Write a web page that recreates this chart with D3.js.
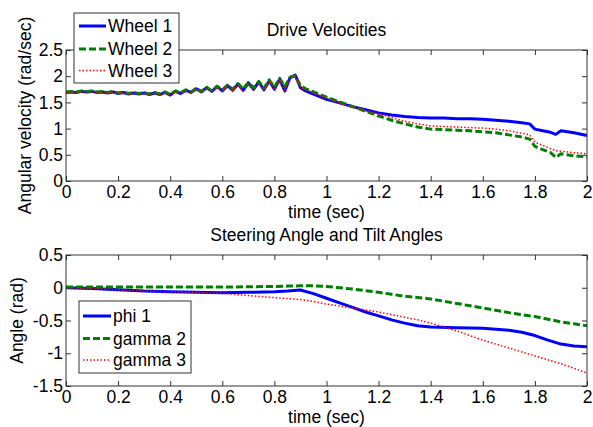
<!DOCTYPE html>
<html><head><meta charset="utf-8">
<script src="https://cdn.jsdelivr.net/npm/d3@7"></script>
<style>
html,body{margin:0;padding:0;background:#fff;}
text{font-family:"Liberation Sans",Arial,sans-serif;}
</style></head>
<body>
<svg id="chart" width="593" height="427"></svg>
<script>
// ---- data ----
const xTicks = [0,0.2,0.4,0.6,0.8,1,1.2,1.4,1.6,1.8,2];
const xTickLabels = ["0","0.2","0.4","0.6","0.8","1","1.2","1.4","1.6","1.8","2"];
const yTopTicks = [0,0.5,1,1.5,2,2.5];
const yTopTickLabels = ["0","0.5","1","1.5","2","2.5"];
const yBotTicks = [-1.5,-1,-0.5,0,0.5];
const yBotTickLabels = ["-1.5","-1","-0.5","0","0.5"];

const tTop = [0,0.02,0.04,0.06,0.08,0.10,0.12,0.14,0.16,0.18,0.20,0.22,0.24,0.26,0.28,0.30,0.32,0.34,0.36,0.38,0.40,0.42,0.44,0.46,0.48,0.50,0.52,0.54,0.56,0.58,0.60,0.62,0.64,0.66,0.68,0.70,0.72,0.74,0.76,0.78,0.80,0.82,0.84,0.86,0.88,
  0.90,0.92,0.95,1.00,1.05,1.10,1.15,1.20,1.25,1.30,1.35,1.40,1.45,1.50,1.55,1.60,1.65,1.70,1.75,1.78,1.80,1.83,1.86,1.88,1.90,1.95,2.00];
const wheel1 = [1.69,1.70,1.69,1.71,1.70,1.71,1.69,1.70,1.68,1.70,1.67,1.69,1.66,1.68,1.66,1.68,1.65,1.68,1.65,1.69,1.64,1.71,1.67,1.73,1.69,1.76,1.70,1.78,1.71,1.80,1.72,1.82,1.73,1.85,1.73,1.87,1.75,1.89,1.74,1.91,1.75,1.94,1.72,1.97,2.02,
  1.78,1.72,1.66,1.56,1.49,1.42,1.36,1.30,1.26,1.23,1.21,1.20,1.20,1.19,1.19,1.18,1.16,1.14,1.11,1.09,0.99,0.96,0.93,0.89,0.96,0.92,0.87];
const wheel2 = [1.70,1.71,1.70,1.72,1.71,1.72,1.70,1.71,1.69,1.71,1.68,1.70,1.67,1.69,1.67,1.69,1.66,1.69,1.66,1.70,1.65,1.72,1.68,1.74,1.70,1.77,1.71,1.79,1.72,1.81,1.74,1.83,1.75,1.86,1.76,1.88,1.78,1.90,1.77,1.93,1.79,1.96,1.80,1.98,2.01,
  1.82,1.76,1.70,1.60,1.51,1.42,1.33,1.24,1.16,1.09,1.03,0.99,0.98,0.97,0.96,0.94,0.92,0.88,0.84,0.80,0.66,0.60,0.54,0.45,0.52,0.48,0.46];
const wheel3 = [1.69,1.70,1.69,1.70,1.70,1.71,1.69,1.70,1.68,1.69,1.67,1.69,1.66,1.68,1.66,1.67,1.65,1.68,1.65,1.68,1.64,1.70,1.66,1.72,1.68,1.75,1.69,1.77,1.70,1.79,1.71,1.81,1.72,1.84,1.72,1.86,1.73,1.88,1.72,1.90,1.73,1.93,1.71,1.96,1.99,
  1.80,1.74,1.68,1.57,1.49,1.41,1.34,1.28,1.21,1.14,1.09,1.05,1.04,1.03,1.02,1.01,0.99,0.96,0.91,0.88,0.74,0.68,0.62,0.58,0.57,0.54,0.52];

const tBot = [0,0.1,0.2,0.3,0.4,0.5,0.6,0.7,0.8,0.85,0.9,0.95,1.0,1.05,1.1,1.15,1.2,1.25,1.3,1.35,1.4,1.5,1.6,1.7,1.75,1.8,1.85,1.9,1.95,2.0];
const phi1 = [0,-0.01,-0.03,-0.05,-0.06,-0.07,-0.075,-0.07,-0.06,-0.05,-0.035,-0.09,-0.16,-0.23,-0.30,-0.37,-0.43,-0.49,-0.54,-0.58,-0.60,-0.61,-0.62,-0.65,-0.68,-0.73,-0.80,-0.86,-0.89,-0.90];
const gamma2 = [0.01,0.01,0.01,0.01,0.01,0.01,0.01,0.015,0.02,0.025,0.03,0.03,0.02,0.0,-0.02,-0.045,-0.07,-0.10,-0.13,-0.15,-0.17,-0.24,-0.31,-0.38,-0.41,-0.44,-0.48,-0.52,-0.55,-0.58];
const gamma3 = [0,-0.01,-0.03,-0.05,-0.06,-0.07,-0.085,-0.12,-0.15,-0.165,-0.18,-0.21,-0.25,-0.28,-0.31,-0.34,-0.37,-0.41,-0.45,-0.49,-0.54,-0.66,-0.80,-0.92,-0.98,-1.04,-1.10,-1.16,-1.23,-1.30];

const topNames = ["Wheel 1","Wheel 2","Wheel 3"];
const botNames = ["phi 1","gamma 2","gamma 3"];

// ---- styles ----
const styles = [
  {color:"#0000ff", width:3, dash:null},
  {color:"#008000", width:3, dash:"7,3"},
  {color:"#ff0000", width:1.5, dash:"1.5,2"}
];
const FS = 17.5;
const axisColor = "#333";

const svg = d3.select("#chart");
const x = d3.scaleLinear().domain([0,2]).range([66,587]);

function panel(opts){
  const {y, yTicks, yLabels, title, titleY, ylabel, ylabelX, xlabelY, series, t, names, legend} = opts;
  const g = svg.append("g");
  const [y0,y1] = [y.range()[0], y.range()[1]];
  const fmtX = d => xTickLabels[xTicks.indexOf(d)];
  const fmtY = d => yLabels[yTicks.indexOf(d)];

  const bottom = g.append("g").attr("transform",`translate(0,${y0})`)
    .call(d3.axisBottom(x).tickValues(xTicks).tickFormat(fmtX).tickSizeInner(-5).tickSizeOuter(0).tickPadding(5));
  const top = g.append("g").attr("transform",`translate(0,${y1})`)
    .call(d3.axisTop(x).tickValues(xTicks).tickFormat("").tickSizeInner(-5).tickSizeOuter(0));
  const left = g.append("g").attr("transform",`translate(66,0)`)
    .call(d3.axisLeft(y).tickValues(yTicks).tickFormat(fmtY).tickSizeInner(-5).tickSizeOuter(0).tickPadding(3));
  const right = g.append("g").attr("transform",`translate(587,0)`)
    .call(d3.axisRight(y).tickValues(yTicks).tickFormat("").tickSizeInner(-5).tickSizeOuter(0));
  [bottom,top,left,right].forEach(a=>{
    a.select(".domain").remove();
    a.selectAll("line").attr("stroke",axisColor);
    a.selectAll("text").attr("font-size",FS).attr("fill","#000").style("font-family",'"Liberation Sans",Arial,sans-serif');
  });

  const line = d3.line().x((d,i)=>x(t[i])).y(d=>y(d));
  series.forEach((s,k)=>{
    const p = g.append("path").datum(s).attr("d",line).attr("fill","none")
      .attr("stroke",styles[k].color).attr("stroke-width",styles[k].width)
      .attr("stroke-linejoin","round");
    if(styles[k].dash) p.attr("stroke-dasharray",styles[k].dash);
  });

  g.append("rect").attr("x",66).attr("y",y1).attr("width",587-66).attr("height",y0-y1)
    .attr("fill","none").attr("stroke",axisColor).attr("stroke-width",1);

  g.append("text").attr("x",326.5).attr("y",titleY).attr("dy","0.35em").attr("text-anchor","middle")
    .attr("font-size",FS).text(title);
  g.append("text").attr("x",326.5).attr("y",xlabelY).attr("dy","0.35em").attr("text-anchor","middle")
    .attr("font-size",FS).text("time (sec)");
  g.append("text").attr("transform",`translate(${ylabelX},${(y0+y1)/2}) rotate(-90)`)
    .attr("dy","0.35em").attr("text-anchor","middle").attr("font-size",FS).text(ylabel);

  // legend
  const L = legend;
  const lg = g.append("g");
  lg.append("rect").attr("x",L.x).attr("y",L.y).attr("width",L.w).attr("height",L.h)
    .attr("fill","#fff").attr("stroke",axisColor).attr("stroke-width",1);
  names.forEach((n,k)=>{
    const cy = L.rows[k];
    const ln = lg.append("line").attr("x1",L.lx1).attr("x2",L.lx2).attr("y1",cy).attr("y2",cy)
      .attr("stroke",styles[k].color).attr("stroke-width",styles[k].width);
    if(styles[k].dash) ln.attr("stroke-dasharray",styles[k].dash);
    lg.append("text").attr("x",L.tx).attr("y",cy).attr("dy","0.35em").attr("font-size",FS).text(n);
  });
}

panel({
  y: d3.scaleLinear().domain([0,2.5]).range([181,50]),
  yTicks: yTopTicks, yLabels: yTopTickLabels,
  title: "Drive Velocities", titleY: 30,
  ylabel: "Angular velocity (rad/sec)", ylabelX: 25, xlabelY: 212,
  series: [wheel1, wheel2, wheel3], t: tTop, names: topNames,
  legend: {x:74, y:13, w:105, h:70, rows:[26,49,70.5], lx1:79, lx2:106, tx:108}
});
panel({
  y: d3.scaleLinear().domain([-1.5,0.5]).range([386,255]),
  yTicks: yBotTicks, yLabels: yBotTickLabels,
  title: "Steering Angle and Tilt Angles", titleY: 235,
  ylabel: "Angle (rad)", ylabelX: 17, xlabelY: 417,
  series: [phi1, gamma2, gamma3], t: tBot, names: botNames,
  legend: {x:79, y:301, w:112, h:72, rows:[316,338.5,360], lx1:83, lx2:111, tx:113}
});
</script>
</body></html>
